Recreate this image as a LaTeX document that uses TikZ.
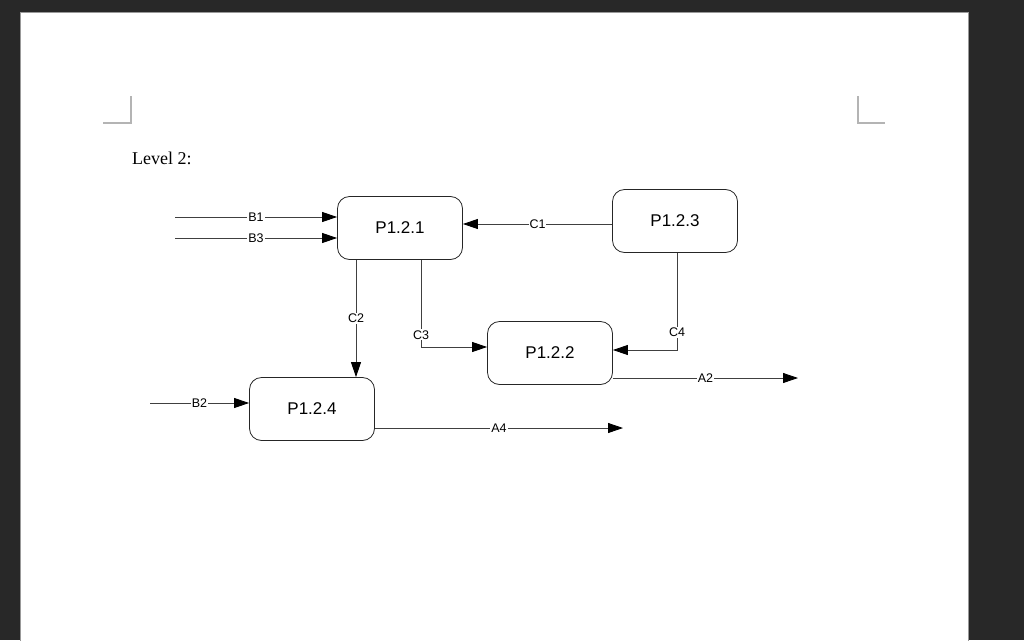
\documentclass[tikz,border=0pt]{standalone}
\usepackage{fontspec}
\setmainfont{Liberation Sans}
\newfontfamily\levelfont{Liberation Serif}
\usetikzlibrary{arrows.meta}
\definecolor{deskgray}{HTML}{282828}
\definecolor{markgray}{HTML}{B4B4B4}

\begin{document}
\begin{tikzpicture}[x=1pt,y=-1pt,
  proc/.style={shape=rectangle,rounded corners=12pt,draw=black!85,line width=0.8pt,
    minimum width=125pt,minimum height=63pt,font=\fontsize{17}{20}\selectfont},
  flow/.style={draw=black!75,line width=0.8pt,-{Triangle[length=15pt,width=10pt,color=black]}},
  lbl/.style={fill=white,inner sep=1pt,font=\fontsize{12.5}{14}\selectfont}]
\useasboundingbox (0,0) rectangle (1024,640);
\fill[deskgray] (0,0) rectangle (1024,640);
\fill[white,draw=black!40] (20,12) rectangle (968,645);
\draw[markgray,line width=2pt] (103,123) -- (131,123) -- (131,96);
\draw[markgray,line width=2pt] (858,96) -- (858,123) -- (885,123);
\node[anchor=base west,inner sep=0pt,font=\levelfont\fontsize{18}{20}\selectfont] (title) at (132,164) {Level 2:};
\node[proc] (p121) at (400,228) {P1.2.1};
\node[proc] (p123) at (675,221) {P1.2.3};
\node[proc] (p122) at (550,353) {P1.2.2};
\node[proc] (p124) at (312,409) {P1.2.4};
\coordinate (b1) at (175,217);
\coordinate (b3) at (175,238);
\coordinate (b2) at (150,403);
\coordinate (a2) at (798,378);
\coordinate (a4) at (623,428);
\draw [flow] (b1) -- node[lbl] {B1} (b1 -| p121.west);
\draw [flow] (b3) -- node[lbl] {B3} (b3 -| p121.west);
\draw [flow] (b2) -- node[lbl] {B2} (b2 -| p124.west);
\draw [flow] ([yshift=-3pt]p123.west) -- node[lbl] {C1} ([yshift=-3pt]p123.west -| p121.east);
\draw [flow] ([xshift=-44pt]p121.south) -- node[lbl] {C2} ([xshift=-44pt]p121.south |- p124.north);
\draw [flow] ([xshift=21pt]p121.south) |- node[lbl,pos=0.43] {C3} ([yshift=6pt]p122.west);
\draw [flow] ([xshift=2pt]p123.south) |- node[lbl,pos=0.41] {C4} ([yshift=3pt]p122.east);
\draw [flow] (a2 -| p122.east) -- node[lbl] {A2} (a2);
\draw [flow] (a4 -| p124.east) -- node[lbl] {A4} (a4);
\end{tikzpicture}
\end{document}
